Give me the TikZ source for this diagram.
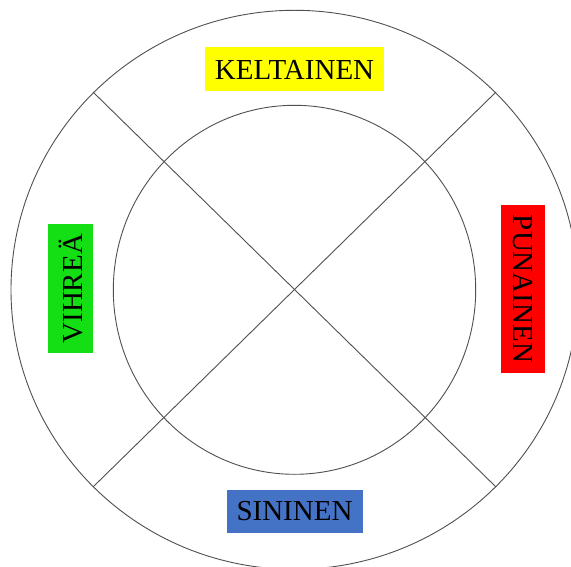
\documentclass[tikz,border=0pt]{standalone}
\usepackage{fontspec}
\setmainfont{Liberation Serif}
\definecolor{kelt}{RGB}{255,255,0}
\definecolor{vihr}{RGB}{20,222,20}
\definecolor{puna}{RGB}{255,0,0}
\definecolor{sini}{RGB}{68,114,196}
\definecolor{linec}{RGB}{80,80,80}
\tikzset{
  ring/.style={draw=linec, line width=0.9pt},
  label box/.style={inner sep=0pt, font=\fontsize{29}{32}\selectfont, text=black}
}
\begin{document}
\begin{tikzpicture}[x=1pt,y=-1pt]
\useasboundingbox (0,0) rectangle (571,567);
\clip (0,0) rectangle (571,567);
\fill[white] (0,0) rectangle (571,567);
\coordinate (c) at (294.5,289.8);
\draw[ring] (c) ellipse [x radius=283.5, y radius=279.5];
\draw[ring] (c) ellipse [x radius=181.2, y radius=184.5];
\coordinate (tl) at (93,92);
\coordinate (br) at (496,487);
\coordinate (tr) at (496,92);
\coordinate (bl) at (93,487);
\draw[ring] (tl) -- (br);
\draw[ring] (tr) -- (bl);
\node[label box, fill=kelt, minimum width=179pt, minimum height=44pt] (kelt) at (294.5,69.5) {KELTAINEN};
\node[label box, fill=sini, minimum width=136pt, minimum height=43pt] (sini) at (294.5,511) {SININEN};
\node[label box, fill=vihr, rotate=90, minimum width=129pt, minimum height=45pt] (vihr) at (70.8,288.8) {VIHREÄ};
\node[label box, fill=puna, rotate=-90, minimum width=168pt, minimum height=44pt] (puna) at (523,289) {PUNAINEN};
\end{tikzpicture}
\end{document}
